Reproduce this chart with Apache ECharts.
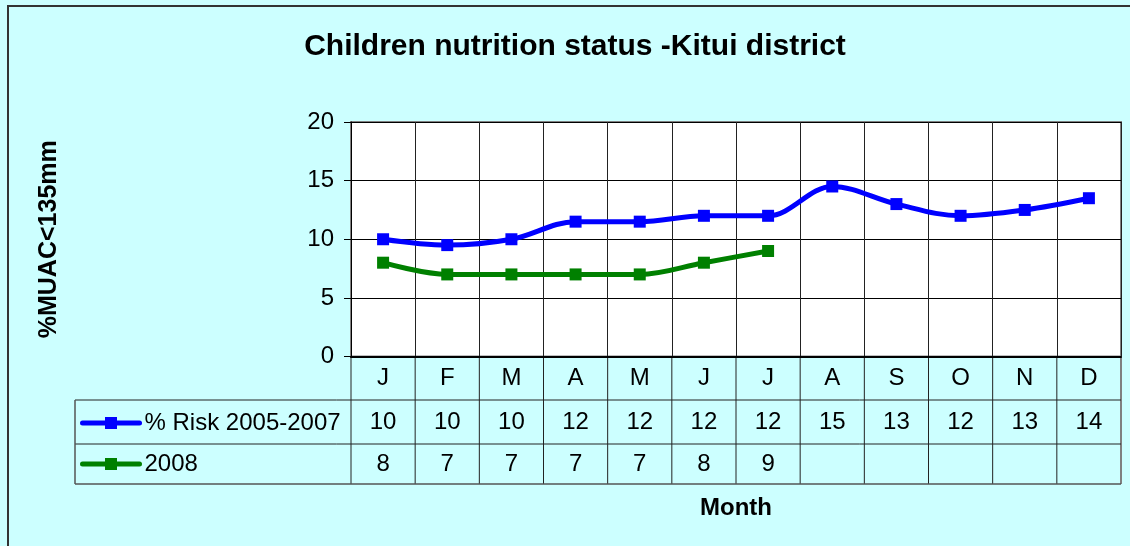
<!DOCTYPE html>
<html>
<head>
<meta charset="utf-8">
<script src="https://cdn.jsdelivr.net/npm/echarts@6/dist/echarts.min.js"></script>
<style>
  html, body { margin: 0; padding: 0; background: #CCFFFF; }
  #chart { width: 1130px; height: 546px; }
</style>
</head>
<body>
<div id="chart"></div>
<script>
// ---- data ----
const months = ['J', 'F', 'M', 'A', 'M', 'J', 'J', 'A', 'S', 'O', 'N', 'D'];
const risk20052007 = [10, 9.5, 10, 11.5, 11.5, 12, 12, 14.5, 13, 12, 12.5, 13.5];
const year2008 = [8, 7, 7, 7, 7, 8, 9, null, null, null, null, null];
const seriesNames = ['% Risk 2005-2007', '2008'];
const yTicks = { min: 0, max: 20, interval: 5 };
const titleText = 'Children nutrition status -Kitui district';
const yAxisTitle = '%MUAC<135mm';
const xAxisTitle = 'Month';

const FONT = '"Liberation Sans", Arial, sans-serif';
const chart = echarts.init(document.getElementById('chart'), null, { renderer: 'canvas' });

const gridBox = { left: 351, top: 122, width: 770, height: 234.5 };
const tableLeft = 75;
const rowBottoms = [400, 444, 484];
const FS = 24;

function fmt(v) { return (v === null || v === undefined) ? '' : String(Math.round(v)); }

const option = {
  backgroundColor: '#CCFFFF',
  animation: false,
  title: {
    text: titleText,
    left: 570, top: 27, textAlign: 'center',
    textStyle: { fontFamily: FONT, fontSize: 30, fontWeight: 'bold', color: '#000' }
  },
  legend: {
    data: seriesNames,
    orient: 'vertical',
    left: 80, top: 411, padding: 0,
    itemWidth: 57, itemHeight: 15, itemGap: 17,
    lineStyle: { width: 5, cap: 'round' },
    textStyle: { fontFamily: FONT, fontSize: FS, color: '#000' },
    selectedMode: false
  },
  grid: Object.assign({ show: true, backgroundColor: '#fff', borderColor: '#808080', borderWidth: 2 }, gridBox),
  xAxis: [
    {
      type: 'category', data: months, gridIndex: 0, position: 'bottom',
      axisLine: { lineStyle: { color: '#000', width: 2 } },
      axisTick: { show: false },
      axisLabel: { fontFamily: FONT, fontSize: FS, color: '#000', margin: 10 },
      splitLine: { show: true, lineStyle: { color: '#222', width: 1 } },
      name: xAxisTitle, nameLocation: 'middle', nameGap: 140,
      nameTextStyle: { fontFamily: FONT, fontSize: FS, fontWeight: 'bold', color: '#000' }
    },
    {
      type: 'category', data: months, gridIndex: 0, position: 'bottom', offset: 44,
      axisLine: { show: false }, axisTick: { show: false },
      axisLabel: { fontFamily: FONT, fontSize: FS, color: '#000', margin: 10,
        formatter: (v, i) => fmt(risk20052007[i]) }
    },
    {
      type: 'category', data: months, gridIndex: 0, position: 'bottom', offset: 86,
      axisLine: { show: false }, axisTick: { show: false },
      axisLabel: { fontFamily: FONT, fontSize: FS, color: '#000', margin: 10,
        formatter: (v, i) => fmt(year2008[i]) }
    }
  ],
  yAxis: {
    type: 'value', min: yTicks.min, max: yTicks.max, interval: yTicks.interval,
    axisLine: { show: true, lineStyle: { color: '#000', width: 1 } },
    axisTick: { show: true, inside: false, length: 7, lineStyle: { color: '#000' } },
    axisLabel: { fontFamily: FONT, fontSize: FS, color: '#000', margin: 17 },
    splitLine: { show: true, lineStyle: { color: '#000', width: 1 } },
    name: yAxisTitle, nameLocation: 'middle', nameRotate: 90, nameGap: 289,
    nameTextStyle: { fontFamily: FONT, fontSize: 25, fontWeight: 'bold', color: '#000' }
  },
  series: [
    {
      name: seriesNames[0], type: 'line', xAxisIndex: 0, data: risk20052007,
      smooth: 0.35, symbol: 'rect', symbolSize: 12,
      lineStyle: { color: '#0000FF', width: 5 },
      itemStyle: { color: '#0000FF' }
    },
    {
      name: seriesNames[1], type: 'line', xAxisIndex: 0, data: year2008,
      smooth: 0.35, symbol: 'rect', symbolSize: 12,
      lineStyle: { color: '#008000', width: 5 },
      itemStyle: { color: '#008000' }
    }
  ]
};

chart.setOption(option);

// ---- table borders (derived from the category axis) ----
const c0 = chart.convertToPixel({ xAxisIndex: 0 }, 0);
const c1 = chart.convertToPixel({ xAxisIndex: 0 }, 1);
const band = c1 - c0;
const plotBottom = chart.convertToPixel({ yAxisIndex: 0 }, yTicks.min);
const lines = [];
const lineStyle = { stroke: '#222', lineWidth: 1 };
for (let i = 0; i <= months.length; i++) {
  const x = c0 - band / 2 + i * band;
  lines.push({ type: 'line', shape: { x1: x, y1: plotBottom, x2: x, y2: rowBottoms[2] },
    style: i === months.length ? { stroke: '#808080', lineWidth: 2 } : lineStyle, silent: true });
}
const xRight = c0 - band / 2 + months.length * band;
rowBottoms.forEach((y, k) => {
  lines.push({ type: 'line', shape: { x1: tableLeft, y1: y, x2: xRight, y2: y },
    style: k === 2 ? { stroke: '#555', lineWidth: 1.5 } : lineStyle, silent: true });
});
lines.push({ type: 'line', shape: { x1: tableLeft, y1: rowBottoms[0], x2: tableLeft, y2: rowBottoms[2] },
  style: { stroke: '#555', lineWidth: 1.5 }, silent: true });
// outer chart border
lines.push({ type: 'rect', shape: { x: 8, y: 6, width: 1140, height: 560 },
  style: { fill: null, stroke: '#333', lineWidth: 2 }, silent: true, z: 100 });

chart.setOption({ graphic: lines });
</script>
</body>
</html>
